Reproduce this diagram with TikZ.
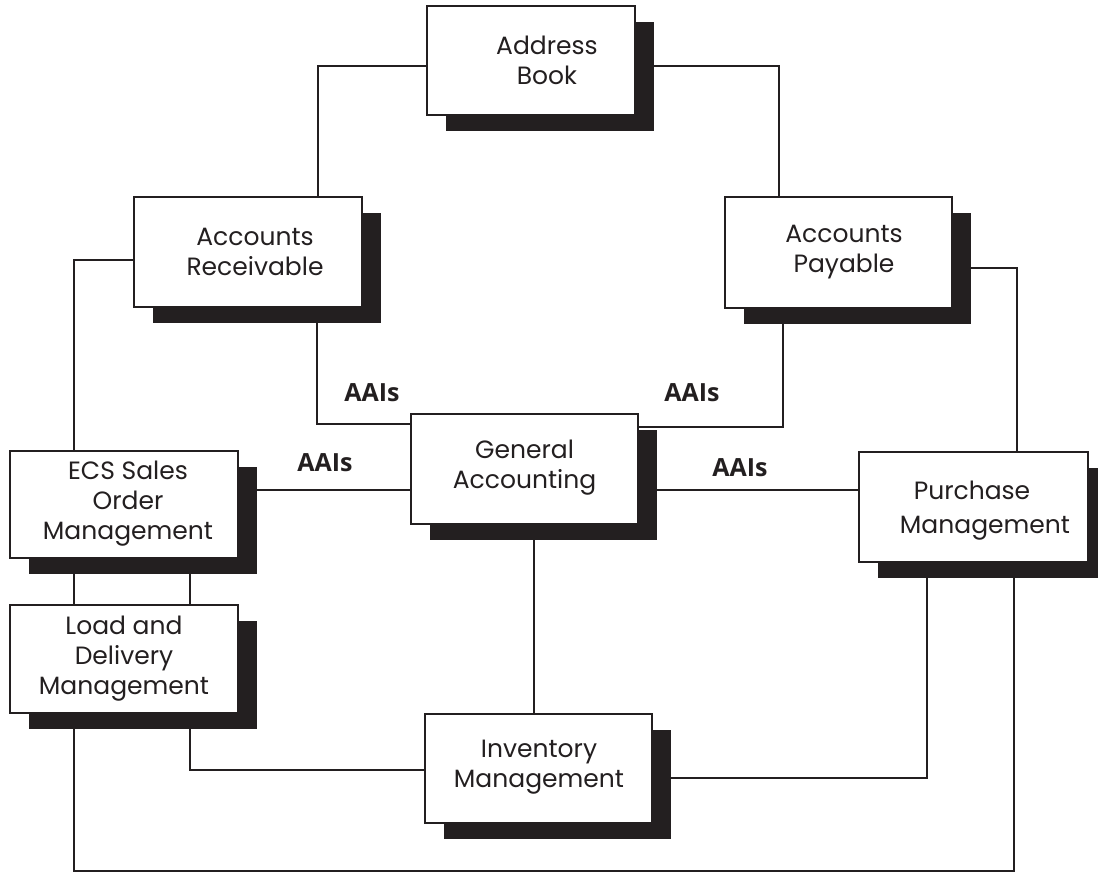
\documentclass[tikz,border=0pt]{standalone}
\usepackage{fontspec}
\setmainfont{Poppins}
\newfontfamily\aaisfont{Open Sans}
\usetikzlibrary{shadows,backgrounds}
\definecolor{ink}{HTML}{231F20}
\begin{document}
\begin{tikzpicture}[x=1pt,y=-1pt,
  box/.style={draw=ink, line width=2.5pt, fill=white, inner sep=0pt,
    drop shadow={shadow xshift=19pt, shadow yshift=-16pt, fill=ink, opacity=1}},
  txt/.style={align=center, text=ink, inner sep=0pt, font=\fontsize{25}{30}\selectfont},
  aais/.style={text=ink, inner sep=0pt, font=\aaisfont\bfseries\fontsize{25}{30}\selectfont},
  conn/.style={draw=ink, line width=2pt}]
\useasboundingbox (0,0) rectangle (1098,874);

% boxes
\node[box, minimum width=208pt, minimum height=109pt] (ab) at (531,60.5) {};
\node[box, minimum width=228pt, minimum height=110pt] (ar) at (248,252) {};
\node[box, minimum width=227pt, minimum height=111pt] (ap) at (838.5,252.5) {};
\node[box, minimum width=228pt, minimum height=107pt] (ecs) at (124,504.5) {};
\node[box, minimum width=228pt, minimum height=108pt] (ld) at (124,659) {};
\node[box, minimum width=227pt, minimum height=110pt] (ga) at (524.5,469) {};
\node[box, minimum width=229pt, minimum height=110pt] (pm) at (973.5,507) {};
\node[box, minimum width=227pt, minimum height=109pt] (im) at (538.5,768.5) {};

% texts
\node[txt] (abt) at (547,60) {Address\\Book};
\node[txt] (art) at (255,252) {Accounts\\Receivable};
\node[txt] (apt) at (844,252) {Accounts\\Payable};
\node[txt] (ecst) at (128,504) {ECS Sales\\Order\\Management};
\node[txt] (ldt) at (124,659) {Load and\\Delivery\\Management};
\node[txt] (gat) at (524.5,468) {General\\Accounting};
\node[txt] (pmt) at (985,511) {Purchase\hspace*{26pt}\\[4pt]Management};
\node[txt] (imt) at (539,767) {Inventory\\Management};

% AAIs labels
\node[aais] (a1) at (372,393) {AAIs};
\node[aais] (a2) at (692,393) {AAIs};
\node[aais] (a3) at (325,463) {AAIs};
\node[aais] (a4) at (740,468) {AAIs};

\coordinate (bot) at (0,871);

\begin{scope}[on background layer]
\draw[conn] ([yshift=-5.5pt]ab.west) -| ([xshift=70pt]ar.north);
\draw[conn] ([yshift=-5.5pt]ab.east) -| ([xshift=-59.5pt]ap.north);
\draw[conn] ([yshift=-8pt]ar.west) -| ([xshift=-50pt]ecs.north);
\draw[conn] ([xshift=69pt]ar.south) |- ([yshift=45pt]ga.west);
\draw[conn] ([xshift=-55.5pt]ap.south) |- ([yshift=42pt]ga.east);
\draw[conn] ([yshift=14.5pt]ecs.east) -- ([yshift=14.5pt]ecs.east -| ga.west);
\draw[conn] ([yshift=-21pt]ga.east) -- ([yshift=-21pt]ga.east -| pm.west);
\draw[conn] ([xshift=9.5pt]ga.south) -- ([xshift=9.5pt]ga.south |- im.north);
\draw[conn] ([xshift=-50pt]ecs.south) -- ([xshift=-50pt]ld.north);
\draw[conn] ([xshift=66pt]ecs.south) -- ([xshift=66pt]ld.north);
\draw[conn] ([yshift=-15.5pt]ap.east) -| ([xshift=43.5pt]pm.north);
\draw[conn] ([xshift=-46.5pt]pm.south) |- ([yshift=-9.5pt]im.east);
\draw[conn] ([xshift=40.5pt]pm.south) -- ([xshift=40.5pt]pm.south |- bot)
  -- ([xshift=-50pt]ld.south |- bot) -- ([xshift=-50pt]ld.south);
\draw[conn] ([xshift=66pt]ld.south) |- ([yshift=-1.5pt]im.west);
\end{scope}
\end{tikzpicture}
\end{document}
